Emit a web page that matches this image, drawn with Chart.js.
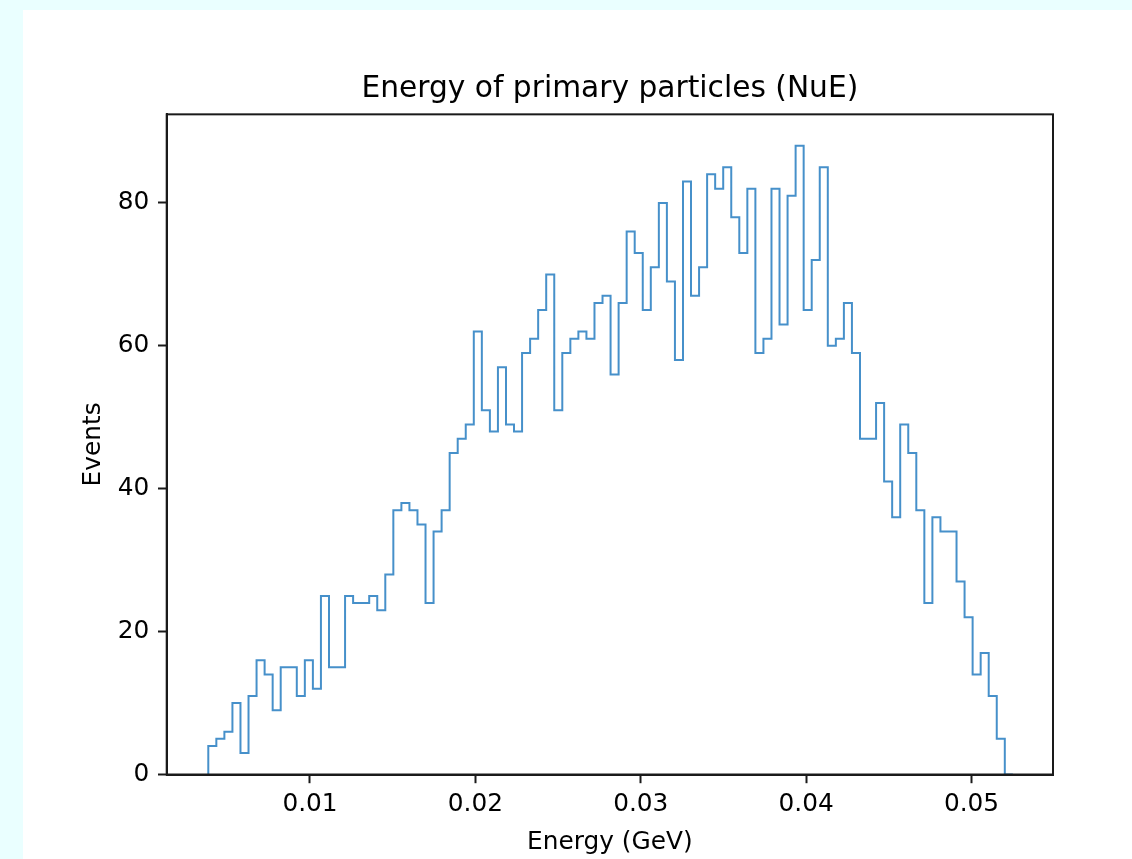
<!DOCTYPE html>
<html>
<head>
<meta charset="utf-8">
<title>Energy of primary particles (NuE)</title>
<script src="https://cdn.jsdelivr.net/npm/chart.js@4/dist/chart.umd.min.js"></script>
<style>
  html, body { margin: 0; padding: 0; overflow: hidden; background: #eaffff; }
  #figure {
    position: absolute; left: 23px; top: 10px;
    width: 1142px; height: 856px; background: #ffffff;
  }
</style>
</head>
<body>
<div id="figure"><canvas id="hist"></canvas></div>
<script>
// histogram data (100 bins)
const counts = [
  4, 4, 5, 6, 10, 3, 11, 16, 14, 9,
  15, 15, 11, 16, 12, 25, 15, 15, 25, 24,
  24, 25, 23, 28, 37, 38, 37, 35, 24, 34,
  37, 45, 47, 49, 62, 51, 48, 57, 49, 48,
  59, 61, 65, 70, 51, 59, 61, 62, 61, 66,
  67, 56, 66, 76, 73, 65, 71, 80, 69, 58,
  83, 67, 71, 84, 82, 85, 78, 73, 82, 59,
  61, 82, 63, 81, 88, 65, 72, 85, 60, 61,
  66, 59, 47, 47, 52, 41, 36, 49, 45, 37,
  24, 36, 34, 34, 27, 22, 14, 17, 11, 5
];
const binLo = 0.00385;   // lowest energy (GeV)
const binHi = 0.0525;    // highest energy (GeV)
const xTicks = [0.01, 0.02, 0.03, 0.04, 0.05];
const yTicks = [0, 20, 40, 60, 80];
const xLimits = [0.001335, 0.054928];
const yLimits = [0, 92.4];

const titleText  = 'Energy of primary particles (NuE)';
const xLabelText = 'Energy (GeV)';
const yLabelText = 'Events';

// step outline: up at the first edge, across each bin, down at the last edge
const nBins = counts.length;
const binW  = (binHi - binLo) / nBins;
const outline = [{ x: binLo, y: 0 }];
counts.forEach((c, i) => outline.push({ x: binLo + i * binW, y: c }));
outline.push({ x: binHi, y: 0 });

const FONT = 'DejaVu Sans';
const INK  = '#1a1a1a';

// box around the plot area (all four spines)
const spines = {
  id: 'spines',
  afterDraw(chart) {
    const { ctx, chartArea: a } = chart;
    ctx.save();
    ctx.strokeStyle = INK;
    ctx.lineWidth = 2;
    ctx.strokeRect(a.left, a.top, a.right - a.left, a.bottom - a.top);
    ctx.restore();
  }
};

const tickGrid = {
  display: true,
  drawOnChartArea: false,
  drawTicks: true,
  tickLength: 8.7,
  tickWidth: 2,
  tickColor: INK
};

new Chart(document.getElementById('hist'), {
  type: 'line',
  data: {
    datasets: [{
      data: outline,
      stepped: 'after',
      borderColor: '#4690ca',
      borderWidth: 2,
      pointRadius: 0,
      fill: false,
      tension: 0
    }]
  },
  options: {
    responsive: true,
    maintainAspectRatio: false,
    devicePixelRatio: 1,
    animation: false,
    events: [],
    layout: { padding: { left: 0, top: 0, right: 112, bottom: 0 } },
    plugins: {
      legend: { display: false },
      tooltip: { enabled: false },
      title: {
        display: true,
        text: titleText,
        fullSize: false,
        color: '#000',
        font: { family: FONT, size: 29.7, weight: 'normal' },
        padding: { top: 61.3, bottom: 7.4 }
      }
    },
    scales: {
      x: {
        type: 'linear',
        min: xLimits[0],
        max: xLimits[1],
        afterFit: s => { s.height = 91.5; },
        afterBuildTicks: s => { s.ticks = xTicks.map(v => ({ value: v })); },
        ticks: {
          color: '#000',
          padding: 6,
          font: { family: FONT, size: 24.8 },
          maxRotation: 0,
          callback: v => v.toFixed(2)
        },
        grid: tickGrid,
        border: { display: true, color: INK, width: 2 },
        title: {
          display: true,
          text: xLabelText,
          color: '#000',
          font: { family: FONT, size: 24.8 },
          padding: { top: 0, bottom: 9 }
        }
      },
      y: {
        type: 'linear',
        min: yLimits[0],
        max: yLimits[1],
        afterFit: s => { s.width = 143.7; },
        afterBuildTicks: s => { s.ticks = yTicks.map(v => ({ value: v })); },
        ticks: {
          color: '#000',
          padding: 8.7,
          font: { family: FONT, size: 24.8 },
          callback: v => String(v)
        },
        grid: tickGrid,
        border: { display: true, color: INK, width: 2 },
        title: {
          display: true,
          text: yLabelText,
          color: '#000',
          font: { family: FONT, size: 24.8 },
          padding: { top: 56, bottom: 0 }
        }
      }
    }
  },
  plugins: [spines]
});
</script>
</body>
</html>
